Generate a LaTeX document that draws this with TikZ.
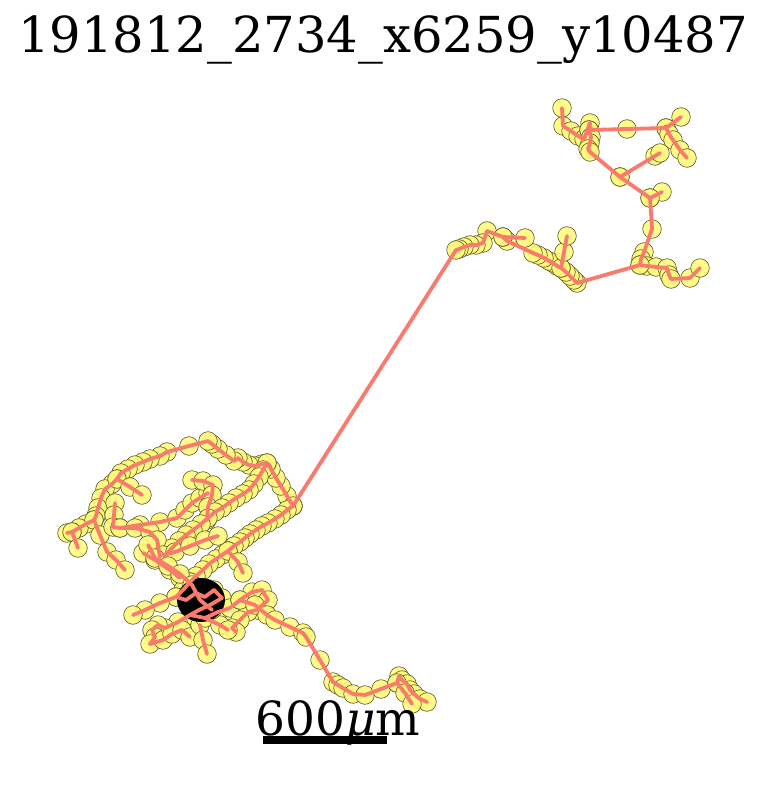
\documentclass[tikz,border=0pt]{standalone}
\usepackage{fontspec}
\setmainfont{DejaVu Serif}
\usepackage{xcolor}
\usepackage{tikz}
\definecolor{trackred}{RGB}{250,122,110}
\definecolor{spotyellow}{RGB}{255,250,125}
\definecolor{spotedge}{RGB}{85,85,35}
\tikzstyle{trackline} = [draw=trackred, line width=3.8pt, line cap=round, line join=round]
\tikzstyle{spot} = [fill=spotyellow, draw=spotedge, line width=0.6pt, fill opacity=0.9]
\def\trackA{562/108, 563/126, 571/131, 578/136, 584/139, 590/123, 589/130, 627/129, 666/128, 681/117}
\def\trackB{666/128, 669/134, 673/140, 680/150, 687/158}
\def\trackC{589/130, 591/137, 590/143, 588/149, 590/152, 620/177, 655/156, 660/153}
\def\trackD{620/177, 650/198, 662/192}
\def\trackE{650/198, 652/229, 644/252, 641/259, 640/265, 647/266, 656/267, 667/268, 669/275, 671/279, 690/278, 700/268}
\def\trackF{640/265, 577/283, 574/280, 570/276, 566/272, 561/268, 557/266, 553/263, 549/261, 544/258, 538/255, 533/253, 507/241, 503/237, 487/231, 483/243, 476/245, 470/245, 464/247, 459/249, 456/250, 293/506}
\def\trackG{561/268, 564/252, 567/236}
\def\trackH{503/237, 525/238}
\def\trackI{293/506, 287/496, 281/486, 276/478, 271/469, 267/463, 262/464, 255/466, 249/465, 243/462, 238/458, 234/461, 226/455, 218/449, 212/444, 208/441, 189/446, 167/452, 160/456, 150/459, 143/462, 135/465, 128/469, 121/473, 117/479, 112/484, 105/489, 101/498, 98/508, 96/516, 94/520, 86/524, 79/528, 72/532, 67/533}
\def\trackJ{72/532, 78/548}
\def\trackK{94/520, 100/535, 107/552, 116/560, 125/570}
\def\trackL{117/479, 130/487, 142/495}
\def\trackM{115/503, 114/515, 113/527, 120/528, 140/525, 160/522, 177/518, 185/510, 192/503, 200/498, 208/493}
\def\trackN{192/480, 203/481, 213/485, 212/495, 208/507, 207/520}
\def\trackO{267/463, 263/470, 259/477, 254/484, 249/490, 243/494, 236/498, 229/503, 222/508, 215/512, 208/518, 201/524, 193/530, 186/535, 179/541, 172/548, 165/556}
\def\trackP{120/528, 135/528, 150/532, 157/540, 160/557}
\def\trackQ{143/553, 155/560, 170/570, 180/578}
\def\trackR{293/506, 287/510, 281/515, 275/519, 268/523, 262/526, 256/530, 250/534, 245/538, 240/542, 234/546, 228/551, 222/555, 216/559, 209/564, 203/570, 196/576, 190/582}
\def\trackS{228/551, 238/562, 243/573}
\def\trackT{190/582, 183/590, 176/597, 186/600, 196/593, 205/597, 214/590, 222/598, 210/605, 199/610, 190/615, 205/618, 218/612, 230/608, 240/600, 252/592, 262/590, 268/600, 257/610, 248/612, 240/620, 232/628, 236/632}
\def\trackU{176/597, 160/603, 145/610, 133/615}
\def\trackV{190/615, 178/622, 165/628, 158/625, 152/630, 155/637, 150/644, 163/640, 172/634, 182/630, 190/637}
\def\trackW{200/625, 203/640, 207/654}
\def\trackX{205/618, 220/625, 228/630}
\def\trackY{240/600, 255/605, 267/615, 275/620, 290/627, 303/633, 306/637, 320/660, 333/682, 338/685, 343/688, 353/694, 365/695, 381/689, 397/683, 399/676, 402/680, 407/684, 410/690, 414/694, 420/699, 427/702}
\def\trackZ{397/683, 405/693, 412/704}
\def\trackAA{163/555, 175/552, 190/546, 205/540, 218/536}
\def\trackAB{148/545, 155/558, 168/566, 180/574, 192/585, 200/600, 212/610}
\begin{document}
\begin{tikzpicture}[x=1pt, y=-1pt]
\useasboundingbox (0,0) rectangle (765,786);
\node[anchor=base, inner sep=0pt] (title) at (383,53) {\fontsize{49.6}{50}\selectfont 191812\_2734\_x6259\_y10487};
\foreach \t in {A,B,C,D,E,F,G,H,I,J,K,L,M,N,O,P,Q,R,S,T,U,V,W,X,Y,Z,AA,AB}
  {\edef\cur{\csname track\t\endcsname}
   \foreach \x/\y in \cur {\draw[spot] (\x,\y) circle (9.3);}}
\fill[black] (201,600) ellipse (24 and 22);
\foreach \t in {A,B,C,D,E,F,G,H,I,J,K,L,M,N,O,P,Q,R,S,T,U,V,W,X,Y,Z,AA,AB}
  {\edef\cur{\csname track\t\endcsname}
   \foreach \x/\y [count=\i, remember=\x as \lx, remember=\y as \ly] in \cur
     {\ifnum\i>1 \draw[trackline] (\lx,\ly) -- (\x,\y);\fi}}
\fill[black] (263,736) rectangle (387,744);
\node[anchor=base, inner sep=0pt] (scale) at (338,735) {\fontsize{47}{48}\selectfont 600{\itshape μ}m};
\end{tikzpicture}
\end{document}
